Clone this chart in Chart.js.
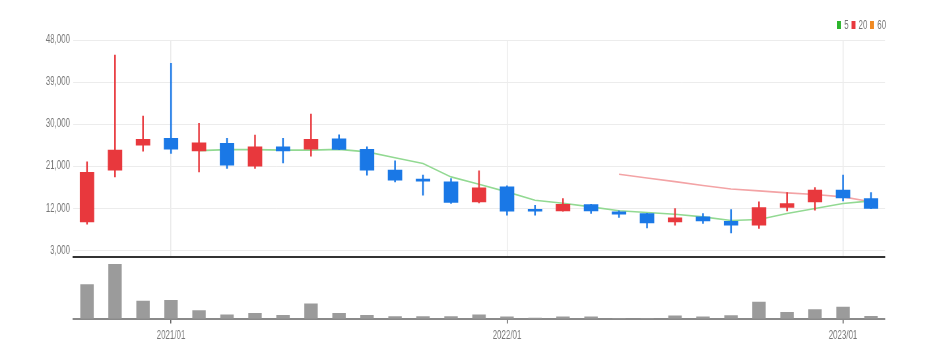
<!DOCTYPE html>
<html><head><meta charset="utf-8">
<script src="https://cdn.jsdelivr.net/npm/chart.js@4/dist/chart.umd.min.js"></script>
<style>
html,body{margin:0;padding:0;background:#fff;width:933px;height:357px;overflow:hidden}
#wrap{position:relative;width:933px;height:357px}
#main{position:absolute;left:0;top:0}
#vol{position:absolute;left:0;top:258px}
#legend{position:absolute;top:18px;left:837px;font:12px 'Liberation Sans',Arial,sans-serif;color:#777;display:flex;align-items:center;white-space:nowrap;transform:scaleX(0.66);transform-origin:0 0;line-height:14px}
#legend .sw{display:inline-block;width:6px;height:8px;margin-right:5px}
#legend .it{display:inline-flex;align-items:center;margin-right:4px}
</style></head>
<body><div id="wrap">
<canvas id="main" width="1414" height="269" style="width:933px;height:269px"></canvas>
<canvas id="vol" width="1414" height="99" style="width:933px;height:99px"></canvas>
<div id="legend"></div>
</div>
<script>
const months = ['2020/10','2020/11','2020/12','2021/01','2021/02','2021/03','2021/04','2021/05','2021/06','2021/07','2021/08','2021/09','2021/10','2021/11','2021/12','2022/01','2022/02','2022/03','2022/04','2022/05','2022/06','2022/07','2022/08','2022/09','2022/10','2022/11','2022/12','2023/01','2023/02'];
const openP  = [9060,20140,25500,26930,24280,25860,21000,25140,24640,26850,24580,20140,17900,17630,13350,16560,11500,11420,12790,11200,10860,9060,10130,9210,8350,12150,13350,15860,14070];
const highP  = [21920,44790,31710,43010,30150,26930,27640,26930,32140,27710,25140,22130,19070,18360,19990,16780,12640,14080,12850,11420,10900,11930,10860,11720,13350,15360,16430,19070,15360];
const lowP   = [8570,18710,24210,23720,19780,20500,20500,21710,23140,24500,19070,17630,14780,13000,13130,10500,10500,11350,10860,10000,7780,8360,8720,6700,7650,11420,11570,13570,11900];
const closeP = [19650,24430,26720,24640,25990,21210,25140,24280,26720,24580,20140,18000,17800,13220,16350,11350,11350,12850,11420,10710,8850,9920,9280,8350,12150,13000,15860,14210,11930];
const volume = [3370000,5370000,1730000,1800000,800000,370000,530000,330000,1470000,530000,330000,200000,200000,200000,370000,170000,50000,170000,170000,30000,30000,270000,170000,300000,1630000,630000,900000,1130000,230000];
const ma5  = [null,null,null,null,24320,24530,24530,24430,24430,24580,24060,22780,21570,18700,17140,15490,13710,13070,12280,11460,11080,10710,10140,9360,9570,10860,11930,13000,13560];
const ma20 = [null,null,null,null,null,null,null,null,null,null,null,null,null,null,null,null,null,null,null,19280,18470,17680,16860,16110,15710,15280,14930,14420,13370];
const ma60 = [];
const yTicks = [3000,12000,21000,30000,39000,48000];
const xTickLabels = ['2021/01','2022/01','2023/01'];
const maLabels = ['5','20','60'];
const maLegendColors = ['#2db52d','#e8383d','#f08a24'];

// canvases are drawn wide and squeezed to 933px (as in the reference)
const SX = 933/1414;
const px = (v)=> v/SX;

const FONT = "'Liberation Sans',Arial,sans-serif";
const UP = '#e8383d', DOWN = '#1a78e6';
const candleColor = months.map((m,i)=> closeP[i] >= openP[i] ? UP : DOWN);

const lg = document.getElementById('legend');
maLabels.forEach((t,i)=>{
  const s = document.createElement('span'); s.className='it';
  const b = document.createElement('span'); b.className='sw'; b.style.background = maLegendColors[i];
  s.appendChild(b); s.appendChild(document.createTextNode(t)); lg.appendChild(s);
});

const isJan = (i)=> xTickLabels.includes(months[i]);

new Chart(document.getElementById('main'), {
  type: 'bar',
  data: {
    labels: months,
    datasets: [
      {type:'line', label:'5', data: ma5, borderColor:'#92d992', borderWidth:1.6, pointRadius:0, fill:false, order:3},
      {type:'line', label:'20', data: ma20, borderColor:'#f3a3a5', borderWidth:1.6, pointRadius:0, fill:false, order:3},
      {type:'line', label:'60', data: ma60, borderColor:'#f08a24', borderWidth:1.6, pointRadius:0, fill:false, order:3},
      {label:'wick', data: months.map((m,i)=>[lowP[i],highP[i]]), backgroundColor: candleColor, barThickness:px(1.2), grouped:false, order:2},
      {label:'body', data: months.map((m,i)=>[openP[i],closeP[i]]), backgroundColor: candleColor, barThickness:px(14), minBarLength:2, grouped:false, order:1}
    ]
  },
  options: {
    responsive:false, animation:false, devicePixelRatio:1,
    layout:{padding:{top:40,right:px(48),bottom:1,left:0}},
    plugins:{legend:{display:false}, tooltip:{enabled:false}},
    scales:{
      x:{type:'category', offset:true,
         grid:{offset:false, drawTicks:false, lineWidth:px(1), color:(c)=> isJan(c.index) ? '#e9e9e9' : 'rgba(0,0,0,0)'},
         border:{display:true, color:'#333', width:2},
         ticks:{display:false, autoSkip:false}},
      y:{min:1500, max:48000,
         afterBuildTicks:(s)=>{ s.ticks = yTicks.map(v=>({value:v})); },
         afterFit:(s)=>{ s.width = px(73); },
         grid:{color:'#ececec', drawTicks:false},
         border:{display:false},
         ticks:{padding:px(3), color:'#777', font:{family:FONT, size:12}, callback:(v)=> Number(v).toLocaleString('en-US')}}
    }
  }
});

new Chart(document.getElementById('vol'), {
  type:'bar',
  data:{labels: months, datasets:[{label:'volume', data: volume, backgroundColor:'#9b9b9b', barThickness:px(13)}]},
  options:{
    responsive:false, animation:false, devicePixelRatio:1,
    layout:{padding:{top:0,right:px(48),bottom:9,left:px(73)}},
    plugins:{legend:{display:false}, tooltip:{enabled:false}},
    scales:{
      x:{type:'category', offset:true,
         grid:{offset:false, drawOnChartArea:false, drawTicks:true, tickLength:5, lineWidth:px(1), color:(c)=> isJan(c.index) ? '#555' : 'rgba(0,0,0,0)'},
         border:{display:true, color:'#8a8a8a', width:2},
         ticks:{autoSkip:false, maxRotation:0, padding:5, color:'#777', font:{family:FONT, size:12},
                callback:(v,i)=> isJan(i) ? months[i] : ''}},
      y:{display:false, min:0, max:6000000}
    }
  }
});
</script>
</body></html>
